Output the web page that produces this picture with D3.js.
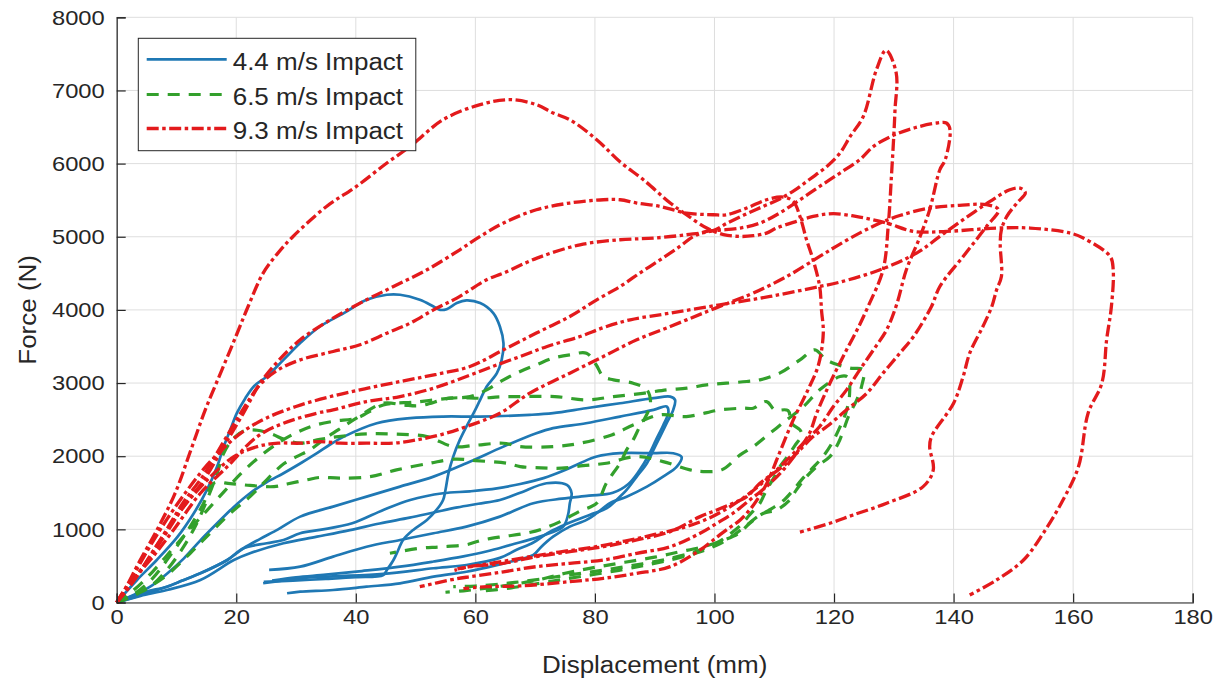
<!DOCTYPE html>
<html>
<head>
<meta charset="utf-8">
<script src="https://cdn.jsdelivr.net/npm/d3@7"></script>
<style>
  html, body { margin: 0; padding: 0; background: #ffffff; }
  svg { display: block; }
  text { font-family: "Liberation Sans", Arial, Helvetica, sans-serif; fill: #262626; }
</style>
</head>
<body>
<svg id="chart" width="1224" height="684"></svg>
<script>
// Force–displacement hysteresis curves from drop impacts at three speeds.
// Each run is a list of [displacement (mm), force (N)] samples.

const xTicks = [0, 20, 40, 60, 80, 100, 120, 140, 160, 180];
const yTicks = [0, 1000, 2000, 3000, 4000, 5000, 6000, 7000, 8000];
const seriesLabels = ["4.4 m/s Impact", "6.5 m/s Impact", "9.3 m/s Impact"];

// ---- 4.4 m/s runs ----
const v44_runA = [[0,0],[3.4,308],[6.7,581],[10.2,900],[12.9,1220],[15.1,1539],[16.8,1858],[17.9,2131],[19,2360],[20.1,2588],[21.5,2790],[23,2960],[25.1,3089],[27.9,3317],[30.7,3546],[34,3773],[38,3956],[41.8,4138],[45.2,4207],[47.4,4207],[50.7,4138],[53,4047],[54.1,4001],[55.2,4010],[56.9,4093],[58.5,4129],[60.8,4093],[63,3956],[64.1,3773],[64.7,3546],[64.4,3317],[63.6,3135],[61.9,2952],[60.8,2770],[59.7,2588],[58.5,2405],[57.4,2223],[56.3,1995],[55.5,1767],[55,1539],[54.6,1402],[53.5,1265],[51.9,1129],[49.6,992],[47.9,855],[47.1,718],[46.3,581],[45.2,445],[44.6,376],[40,345],[35,322],[29.5,300],[24.6,282]];
const v44_runB = [[0,0],[3,110],[5.6,216],[8.5,400],[11.2,600],[14,850],[16.8,1083],[19.5,1300],[22.3,1493],[25,1640],[27.9,1767],[30.7,1900],[33.5,2041],[35.7,2160],[38,2268],[43.5,2451],[49.1,2520],[54.6,2542],[60.8,2542],[69.1,2565],[73,2588],[78.5,2656],[84.2,2724],[89.8,2793],[92.6,2815],[93.4,2770],[93.1,2634],[92,2451],[90.9,2268],[89.8,2086],[88.7,1904],[87,1721],[85.3,1539],[83.6,1402],[82,1290],[79.2,1200],[76.9,1129],[74.2,1037],[72,946],[69.7,820],[66.9,720],[64.1,610],[58.5,513],[53,468],[44.6,392],[36.2,356],[30.7,331],[24.5,263]];
const v44_runC = [[0,0],[4,100],[8.4,216],[11,300],[14,399],[18.5,581],[21.2,741],[24,870],[27,1000],[30.7,1174],[36.2,1311],[41.8,1447],[47.4,1584],[53,1721],[58.5,1904],[64.7,2131],[70.2,2314],[73,2383],[78.5,2451],[84.2,2542],[89.8,2634],[92,2679],[92.3,2600],[91.4,2420],[90.2,2220],[88.9,2000],[87.4,1800],[85.6,1620],[83,1500],[79,1460],[74.5,1420],[69.7,1357],[64.1,1174],[58.5,1037],[53,946],[47.4,855],[41.8,763],[36.2,627],[30.7,490],[25.5,445]];
const v44_runD = [[0,0],[2.3,80],[5,150],[8.4,216],[11,300],[14,399],[18.5,581],[21.2,741],[25.1,810],[27.9,855],[30.7,946],[34,992],[39.4,1083],[44.6,1265],[49.1,1402],[54.6,1493],[59.1,1520],[63.6,1560],[67.5,1620],[71.4,1700],[74.7,1800],[77.5,1904],[80.3,1995],[84.2,2041],[89.8,2041],[93.1,2041],[94.5,1990],[93.7,1858],[91.4,1721],[88.7,1584],[85.3,1447],[82.5,1357],[80.3,1220],[78.6,1129],[75.8,1037],[73,900],[71,760],[69.7,650],[66,560],[62,480],[58.5,421],[53,353],[47.4,262],[41.8,216],[36.2,171],[30.7,148],[28.5,126]];
const v44_runE = [[0,0],[4,90],[8.4,171],[14,308],[19.6,581],[22.3,673],[27.9,810],[33.5,900],[39,990],[44,1080],[49,1160],[53,1230],[57,1300],[60.5,1350],[64.1,1402],[67.5,1500],[71.9,1630],[75.3,1607],[76.1,1493],[75.8,1357],[75.5,1197],[74.7,1037],[72.5,950],[70,880],[66,790],[62,700],[58,630],[53,560],[47.4,490],[41,430],[35,380],[30,345],[26,300]];

// ---- 6.5 m/s runs ----
const v65_runA = [[0,0],[1.2,34],[3.5,120],[5.6,216],[8.4,445],[11.2,763],[13.4,1083],[15.1,1402],[16.8,1767],[17.9,2041],[19.6,2250],[21.5,2350],[23.5,2355],[26,2300],[28,2230],[30.7,2178],[34,2230],[37.1,2268],[41.8,2305],[46.6,2302],[51.9,2268],[56.3,2131],[60,2150],[64.7,2177],[67.5,2131],[73,2131],[77.5,2177],[82.8,2291],[86.5,2430],[90.9,2565],[95.3,2542],[101,2634],[104.8,2656],[106.5,2656],[108.7,2747],[110.1,2634],[112.3,2624],[112.9,2451],[114.3,2360],[114.6,2291],[113.5,2150],[112.2,1995],[110.9,1850],[109.9,1700],[108.7,1539],[107.6,1357],[105.9,1200],[104.3,1050],[102.5,930],[100.5,820],[97,700],[93,610],[88,530],[82,450],[76,380],[70,310],[65,260],[60,225],[56.3,216]];
const v65_runB = [[0,0],[3,120],[6,330],[9,650],[12,1000],[14.5,1350],[16.2,1630],[19,1625],[22.3,1600],[26.3,1584],[28.5,1620],[31.8,1676],[34,1710],[37.3,1700],[42.4,1721],[46.8,1813],[52.4,1904],[56.5,1960],[60,1940],[65.2,1904],[67.5,1858],[71,1840],[74.4,1836],[78,1870],[81.9,1904],[87,1995],[91.4,1926],[95.9,1813],[98.1,1790],[101.2,1813],[104.3,2018],[106.5,2131],[109.3,2314],[112.1,2497],[114.9,2679],[117.6,2907],[121,3089],[122.3,3080],[122.6,2850],[122,2600],[121,2400],[119.8,2200],[118.2,2000],[116.2,1820],[114.6,1680],[113,1520],[111.5,1390],[109.5,1280],[107.3,1180],[105.3,1050],[103.2,920],[100.8,800],[97.5,690],[93.5,600],[89,520],[84,440],[78,360],[72,280],[66,200],[60.2,148]];
const v65_runC = [[0,0],[4,150],[8,350],[12.3,673],[15.6,946],[19,1220],[22.3,1447],[26.2,1767],[28,1900],[30.1,1995],[32.3,2086],[35,2250],[37.9,2405],[40.1,2520],[44.6,2725],[48,2700],[50.7,2690],[55.8,2793],[60.8,2793],[64,2810],[67.5,2815],[73.3,2815],[78.6,2770],[83.1,2815],[88,2860],[92,2907],[95.4,2930],[98.7,2975],[102,2998],[105.4,3021],[107.6,3044],[110.9,3135],[114.3,3317],[116.8,3454],[118.5,3330],[119.9,3272],[122.7,3204],[124.9,3181],[124.6,2952],[123.8,2770],[122.4,2542],[121.6,2360],[120.7,2177],[119.3,1995],[117.1,1858],[115.4,1721],[113.7,1539],[112.6,1402],[110.4,1265],[108.2,1220],[105.9,1083],[104.1,946],[101.5,850],[98,760],[94,690],[90,620],[85,550],[80,480],[75,400],[70,300],[64,220],[58,160],[55,140]];
const v65_runD = [[0,0],[3,180],[6,420],[9,700],[12,980],[15,1250],[18,1520],[21,1780],[24,2000],[27,2180],[30,2320],[33,2420],[36.5,2480],[40.1,2520],[44.6,2700],[50,2740],[55.8,2793],[59.1,2815],[61.9,2907],[64.7,3044],[67.5,3158],[70.2,3249],[73,3340],[75.8,3386],[78.6,3408],[80.2,3250],[81.4,3089],[83.1,3044],[86.4,2998],[88.7,2907],[89.3,2724],[88.5,2542],[87.5,2405],[86.4,2223],[85.3,2086],[84.2,1904],[81.9,1630],[80.3,1357],[77.5,1250],[74.2,1106],[71,1000],[68,940],[64.5,900],[61,850],[58.5,790],[54,760],[50.7,741],[45.7,673]];

// ---- 9.3 m/s runs ----
const v93_runA = [[0,0],[1.5,200],[3.8,560],[6.8,1000],[9.8,1500],[12.3,2060],[14.8,2630],[17.6,3180],[20,3650],[22,4050],[24.5,4503],[27,4780],[29.5,5004],[35.1,5414],[40.1,5688],[45.2,6008],[49.1,6235],[54.6,6600],[60.8,6806],[65.8,6874],[70.2,6806],[73,6692],[75.8,6600],[80.3,6327],[84.2,6024],[88.1,5780],[92.6,5461],[95.3,5301],[98.7,5119],[101.5,5030],[104.3,5004],[106.5,5014],[108.7,5050],[110.4,5119],[113.7,5210],[116.5,5278],[119.9,5315],[124.3,5269],[128.8,5187],[133.3,5073],[138.8,5073],[147.2,5119],[152.8,5119],[159.5,5050],[161.7,4982],[166.2,4730],[166.7,4548],[166.4,4047],[165.6,3591],[164.8,2998],[162.5,2588],[160.9,1858],[158.3,1402],[155,947],[151.7,581],[147.2,308],[142.7,103]];
const v93_runB = [[0,0],[1.2,125],[4.5,490],[7.9,900],[11.2,1311],[14.6,1676],[17.9,2131],[21.2,2588],[24,3000],[27,3300],[30.7,3591],[36.2,3888],[41.8,4138],[46.3,4320],[51.9,4548],[57.4,4822],[60.8,5004],[64.7,5187],[70.2,5369],[75.8,5461],[81.4,5506],[84.2,5506],[87,5461],[90.9,5415],[95.3,5324],[99.8,5301],[102,5301],[105.4,5392],[108.7,5506],[111.5,5543],[113.2,5483],[114.3,5278],[115.4,4959],[116.5,4685],[117.6,4320],[117.9,4001],[118.2,3683],[117.4,3250],[115.6,2900],[113.2,2500],[110.9,2050],[108.7,1620],[106.5,1330],[104.3,1129],[102,992],[99.8,855],[97.6,718],[92.6,490],[87,399],[81.4,331],[75.8,285],[67.5,226],[61.9,216],[58,190]];
const v93_runC = [[0,0],[2,200],[5,560],[8,950],[11,1350],[14.6,1750],[17.9,2200],[21.2,2650],[24,2980],[27,3180],[30.7,3317],[36.2,3431],[40.7,3523],[45.2,3682],[49.1,3819],[53,4001],[56.9,4161],[61.9,4412],[64.7,4503],[70.3,4708],[77.5,4890],[84.2,4959],[89.8,4982],[95.3,5027],[99.8,5086],[102,5180],[105,5300],[108,5410],[111,5520],[113.5,5640],[116,5790],[118.8,5962],[121,6145],[122.7,6372],[124.9,6646],[127.1,7285],[128.7,7549],[130.4,7239],[130.2,6737],[130,6390],[129.6,5825],[129.1,5187],[128.2,4548],[125.7,4047],[124,3750],[122.1,3454],[120.4,3180],[118.8,2907],[117.1,2588],[115.9,2315],[113.7,2041],[111.5,1813],[108.7,1584],[105.9,1402],[103.1,1220],[100.4,1083],[97.6,947],[92.6,763],[87,673],[81.4,581],[75.8,536],[70.2,490],[64.7,420],[59.1,353],[55.8,308],[50.7,216]];
const v93_runD = [[0,0],[2.5,330],[5.5,760],[8.5,1150],[11.5,1500],[14.5,1820],[17.5,2080],[21,2330],[25,2520],[30,2680],[36,2820],[42,2930],[48,3030],[53.5,3120],[59.1,3226],[64.7,3454],[70.2,3683],[75.8,3910],[80.3,4138],[84.2,4320],[87.5,4503],[90.9,4685],[94.2,4867],[96.5,5004],[98.7,5073],[101,5090],[104.3,5119],[107.6,5187],[110.9,5324],[114.3,5506],[117.6,5688],[121,5871],[124.3,6053],[126.6,6235],[130,6390],[133.5,6490],[137.2,6555],[138.8,6555],[139.4,6464],[138.6,6053],[137.7,5916],[136,5369],[134.4,5004],[132.1,4548],[130.5,4080],[128.8,3728],[126.6,3454],[124.3,3180],[122.1,2907],[119.9,2679],[117.6,2405],[115.4,2223],[113,2020],[110.5,1820],[107.8,1620],[105,1440],[102,1280],[99,1150],[95,1030],[90,930],[85,840],[80,760],[74,690],[68,610],[63,540],[59,490],[56.5,440]];
const v93_runE = [[0,0],[1.7,216],[5.6,581],[9.5,992],[14,1493],[18.5,1858],[23.5,2268],[27.9,2451],[33.5,2588],[36.2,2634],[41.8,2747],[47.4,2815],[53,2930],[58.5,3089],[63,3230],[67.5,3363],[72,3500],[77.5,3636],[81.5,3760],[85.9,3865],[92.6,3956],[100.9,4070],[109.3,4184],[117.6,4320],[121,4380],[127.7,4548],[133.8,4777],[137.7,5004],[141.6,5233],[146.1,5483],[149.4,5643],[151.1,5665],[152,5600],[150.6,5461],[148.9,5278],[148,5096],[147.8,4914],[148,4457],[147.2,4275],[146.4,4047],[144.9,3773],[142.7,3409],[141.6,3089],[140,2725],[136.3,2268],[136,2131],[136.6,1813],[134.9,1584],[128.8,1357],[123.2,1197],[119.3,1083],[114.3,963]];
const v93_runF = [[0,0],[3.3,353],[7.3,855],[11.2,1311],[15.7,1721],[19.6,1995],[23.5,2131],[27,2178],[30.7,2178],[34,2200],[37.4,2178],[41.8,2178],[46.3,2178],[50.2,2223],[54.1,2291],[58.5,2405],[64.1,2588],[69.1,2862],[75.8,3135],[81.4,3363],[87,3591],[92.6,3773],[98.1,3956],[103.7,4138],[106.5,4230],[112.1,4457],[117.6,4731],[121,4900],[124.5,5060],[127.7,5187],[131,5290],[136,5392],[141,5430],[145.5,5438],[147.5,5369],[145.5,5140],[141.6,4730],[137.7,4320],[136.3,4047],[133.3,3636],[131,3408],[128.2,3135],[125.5,2862],[122.1,2634],[118.8,2405],[116.5,2268],[114.3,2086],[112.1,1904],[109.9,1767],[107.6,1630],[105.4,1447],[103.1,1357],[100.4,1265],[97.6,1174],[92.6,969],[87,855],[81.4,763],[75.8,695],[70.2,627],[64.7,536],[59.1,490],[57,460]];

const runs44 = [v44_runA, v44_runB, v44_runC, v44_runD, v44_runE];
const runs65 = [v65_runA, v65_runB, v65_runC, v65_runD];
const runs93 = [v93_runA, v93_runB, v93_runC, v93_runD, v93_runE, v93_runF];

// ---- styling ----
const styles = [
  { color: "#1f78b4", width: 2.7, dash: null },
  { color: "#33a02c", width: 3.2, dash: "12,9" },
  { color: "#e31a1c", width: 3.3, dash: "12,3.5,3.5,3.5" }
];
const textStretch = 1.13;
const axisInk = "#262626";
const gridInk = "#dedede";

const svg = d3.select("#chart");
const plot = { left: 116.7, right: 1192.7, top: 17.3, bottom: 602.5 };

const x = d3.scaleLinear().domain([0, 180]).range([plot.left, plot.right]);
const y = d3.scaleLinear().domain([0, 8000]).range([plot.bottom, plot.top]);

// grid
const grid = svg.append("g");
grid.selectAll("line.gx").data(xTicks).join("line")
  .attr("x1", d => x(d)).attr("x2", d => x(d))
  .attr("y1", plot.top).attr("y2", plot.bottom)
  .attr("stroke", gridInk).attr("stroke-width", 1);
grid.selectAll("line.gy").data(yTicks).join("line")
  .attr("x1", plot.left).attr("x2", plot.right)
  .attr("y1", d => y(d)).attr("y2", d => y(d))
  .attr("stroke", gridInk).attr("stroke-width", 1);

// curves
const line = d3.line()
  .x(d => x(d[0]))
  .y(d => y(d[1]))
  .curve(d3.curveCatmullRom.alpha(0.5));

const curves = svg.append("g").attr("fill", "none")
  .attr("stroke-linejoin", "round");
[runs44, runs65, runs93].forEach((runs, i) => {
  const s = styles[i];
  curves.append("g").selectAll("path").data(runs).join("path")
    .attr("d", line)
    .attr("stroke", s.color)
    .attr("stroke-width", s.width)
    .attr("stroke-dasharray", s.dash);
});

// axes
const tickFont = 21;
const xAxis = d3.axisBottom(x).tickValues(xTicks).tickSize(-9).tickPadding(7)
  .tickFormat(d3.format("d"));
const yAxis = d3.axisLeft(y).tickValues(yTicks).tickSize(-9).tickPadding(12)
  .tickFormat(d3.format("d"));

const gx = svg.append("g").attr("transform", `translate(0,${plot.bottom})`).call(xAxis);
const gy = svg.append("g").attr("transform", `translate(${plot.left},0)`).call(yAxis);
[gx, gy].forEach(g => {
  g.select(".domain").attr("stroke", axisInk).attr("stroke-width", 1.2);
  g.selectAll(".tick line").attr("stroke", axisInk).attr("stroke-width", 1.2);
  g.selectAll(".tick text")
    .attr("fill", axisInk)
    .style("font-family", '"Liberation Sans", Arial, sans-serif')
    .style("font-size", tickFont + "px");
});
gx.selectAll(".tick text").attr("transform", `scale(${textStretch},1)`);
gy.selectAll(".tick text")
  .attr("x", -12 / textStretch)
  .attr("transform", `scale(${textStretch},1)`);

// axis titles
function label(str, px, py, size, rotate) {
  svg.append("text")
    .attr("transform", `translate(${px},${py}) rotate(${rotate || 0}) scale(${textStretch},1)`)
    .attr("text-anchor", "middle")
    .style("font-size", size + "px")
    .text(str);
}
label("Displacement (mm)", (plot.left + plot.right) / 2, 673, 23, 0);
label("Force (N)", 36, (plot.top + plot.bottom) / 2, 23, -90);

// legend
const legend = svg.append("g");
legend.append("rect")
  .attr("x", 138.3).attr("y", 38.3).attr("width", 277.5).attr("height", 112.4)
  .attr("fill", "#ffffff").attr("stroke", axisInk).attr("stroke-width", 1);
const rowsY = [59.3, 94.5, 128.5];
seriesLabels.forEach((name, i) => {
  const s = styles[i];
  legend.append("line")
    .attr("x1", 146.7).attr("x2", 226.7)
    .attr("y1", rowsY[i]).attr("y2", rowsY[i])
    .attr("stroke", s.color).attr("stroke-width", s.width)
    .attr("stroke-dasharray", s.dash);
  legend.append("text")
    .attr("transform", `translate(232.7,${rowsY[i] + 10.5}) scale(${textStretch},1)`)
    .style("font-size", "23px")
    .text(name);
});
</script>
</body>
</html>
